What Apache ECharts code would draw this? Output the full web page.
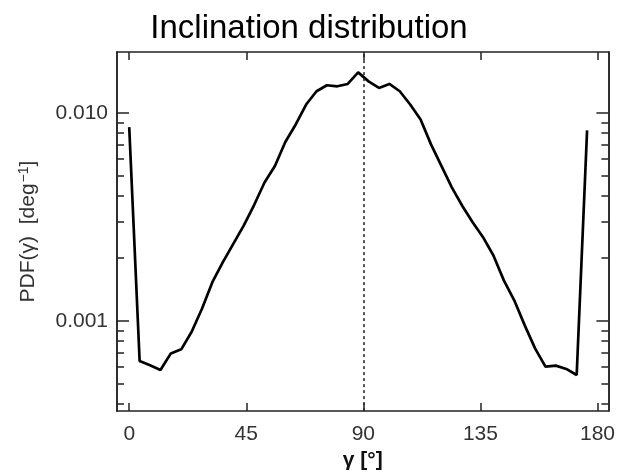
<!DOCTYPE html>
<html>
<head>
<meta charset="utf-8">
<script src="https://cdn.jsdelivr.net/npm/echarts@6/dist/echarts.min.js"></script>
<style>html,body{margin:0;padding:0;background:#fff}#c{width:618px;height:476px}</style>
</head>
<body>
<div id="c"></div>
<script>
const titleText = 'Inclination distribution';
const gammaDeg = [0,4,8,12,16,20,24,28,32,36,40,44,48,52,56,60,64,68,72,76,80,84,88,
  92,96,100,104,108,112,116,120,124,128,132,136,140,144,148,152,156,160,164,168,172,176];
const pdfValues = [0.00853,0.000641,0.000611,0.000580,0.000697,0.000729,0.000886,0.001145,0.001537,
  0.001915,0.002344,0.002867,0.003601,0.004625,0.005552,0.007235,0.00879,0.01096,0.01269,0.01356,
  0.01341,0.01376,0.01564,0.01416,0.01317,0.01376,0.01269,0.01096,0.00929,0.00705,0.005552,0.004377,
  0.003573,0.002977,0.002523,0.002060,0.001564,0.001255,0.000953,0.000737,0.000602,0.000609,
  0.000587,0.000549,0.00823];
const xTicks = [0,45,90,135,180];
const yMajorTicks = [0.001,0.01];
const yMinorTicks = [0.0004,0.0005,0.0006,0.0007,0.0008,0.0009,0.002,0.003,0.004,0.005,0.006,0.007,0.008,0.009];
const refLineX = 90;

const axisColor = '#222';
const fontFam = 'Liberation Sans, Arial, sans-serif';
const xMin = -4.7, xMax = 184.2, yMin = 0.000368, yMax = 0.0196;

const chart = echarts.init(document.getElementById('c'));
const lineStyleAxis = {show:true, onZero:false, lineStyle:{color:axisColor, width:1.5}};
function yAx(pos, ticks, len, labels, extra){
  return Object.assign({
    type:'log', position:pos, min:yMin, max:yMax, logBase:10,
    axisLine:lineStyleAxis,
    axisTick:{show:true, inside:true, length:len, customValues:ticks, lineStyle:{color:axisColor,width:1.5}},
    axisLabel:{show:labels, customValues:ticks, margin:9, color:'#333', fontSize:21, fontFamily:fontFam,
      formatter:v=>Number(v).toFixed(3)},
    splitLine:{show:false}, minorTick:{show:false}
  }, extra||{});
}
const data = gammaDeg.map((g,i)=>[g,pdfValues[i]]);
chart.setOption({
  animation:false,
  backgroundColor:'#fff',
  title:{text:titleText, left:'center', top:7,
    textStyle:{fontFamily:fontFam, fontSize:33, fontWeight:'normal', color:'#000'}},
  grid:{left:117, right:9, top:52, bottom:63, containLabel:false},
  xAxis:[
    {type:'value', position:'bottom', min:xMin, max:xMax,
     axisLine:lineStyleAxis,
     axisTick:{show:true, inside:true, length:8, customValues:xTicks, lineStyle:{color:axisColor,width:1.5}},
     axisLabel:{show:true, customValues:xTicks, margin:13, color:'#333', fontSize:21, fontFamily:fontFam},
     splitLine:{show:false},
     name:'γ [°]', nameLocation:'middle', nameGap:37,
     nameTextStyle:{fontSize:21, fontWeight:'bold', color:'#111', fontFamily:fontFam}},
    {type:'value', position:'top', min:xMin, max:xMax,
     axisLine:lineStyleAxis,
     axisTick:{show:true, inside:true, length:8, customValues:xTicks, lineStyle:{color:axisColor,width:1.5}},
     axisLabel:{show:false}, splitLine:{show:false}}
  ],
  yAxis:[
    yAx('left', yMajorTicks, 12, true, {
      name:'PDF(γ)  [deg{sup|−1}]', nameLocation:'middle', nameGap:78,
      nameTextStyle:{fontSize:21, color:'#333', fontFamily:fontFam,
        rich:{sup:{fontSize:14, color:'#333', fontFamily:fontFam, verticalAlign:'top', padding:[0,0,8,1]}}}
    }),
    yAx('left', yMinorTicks, 7, false),
    yAx('right', yMajorTicks, 12, false),
    yAx('right', yMinorTicks, 7, false)
  ],
  series:[{
    type:'line', data:data, xAxisIndex:0, yAxisIndex:0, showSymbol:false, symbol:'none',
    lineStyle:{color:'#000', width:2.7}, silent:true,
    markLine:{silent:true, symbol:'none', label:{show:false},
      lineStyle:{color:'#222', width:1.5, type:[3,3]},
      data:[{xAxis:refLineX}]}
  }]
});
</script>
</body>
</html>
